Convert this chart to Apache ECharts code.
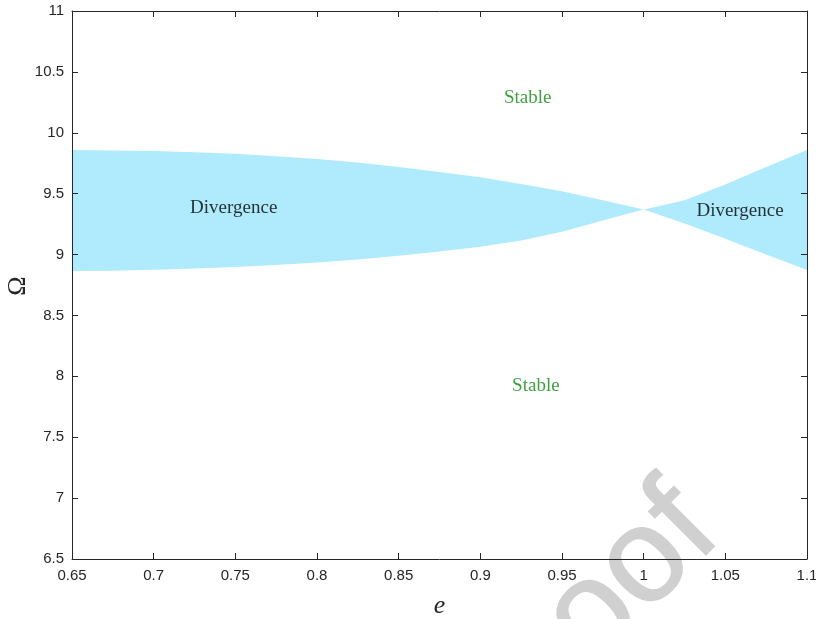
<!DOCTYPE html>
<html>
<head>
<meta charset="utf-8">
<script src="https://cdn.jsdelivr.net/npm/echarts@6/dist/echarts.min.js"></script>
<style>
html,body{margin:0;padding:0;background:#fff;}
#chart{width:816px;height:619px;}
</style>
</head>
<body>
<div id="chart"></div>
<script>
// Eccentricity values (x)
var eValues = [0.65, 0.675, 0.70, 0.725, 0.75, 0.775, 0.80, 0.825, 0.85, 0.875, 0.90, 0.925, 0.95, 0.975, 1.00, 1.025, 1.05, 1.075, 1.10];
// Upper boundary of divergence region (Omega)
var upperOmega = [9.858, 9.855, 9.850, 9.840, 9.827, 9.808, 9.785, 9.755, 9.718, 9.678, 9.635, 9.580, 9.520, 9.445, 9.371, 9.445, 9.575, 9.720, 9.858];
// Lower boundary of divergence region (Omega)
var lowerOmega = [8.865, 8.868, 8.875, 8.885, 8.897, 8.915, 8.935, 8.960, 8.990, 9.025, 9.065, 9.115, 9.188, 9.280, 9.371, 9.255, 9.130, 9.000, 8.873];
// Region annotations
var annoText = ['Stable', 'Stable', 'Divergence', 'Divergence'];
var annoE = [0.929, 0.934, 0.749, 1.059];
var annoOmega = [10.285, 7.92, 9.38, 9.357];
var annoColor = ['#108810', '#108810', '#000000', '#000000'];

var bandData = eValues.map(function (e, i) { return [e, upperOmega[i], lowerOmega[i]]; });
var annoData = annoText.map(function (t, i) {
  return { value: [annoE[i], annoOmega[i]], label: { formatter: t, color: annoColor[i] } };
});

function renderBand(params, api) {
  if (params.dataIndex !== 0) return null;
  var pts = [];
  var n = eValues.length;
  for (var i = 0; i < n; i++) pts.push(api.coord([eValues[i], upperOmega[i]]));
  for (var j = n - 1; j >= 0; j--) pts.push(api.coord([eValues[j], lowerOmega[j]]));
  return {
    type: 'polygon',
    shape: { points: pts },
    style: { fill: '#b0ebfd', stroke: null }
  };
}

var axisColor = '#262626';
var chart = echarts.init(document.getElementById('chart'));
chart.setOption({
  animation: false,
  backgroundColor: '#ffffff',
  grid: { left: 72, right: 9, top: 11, bottom: 60, containLabel: false, outerBoundsMode: 'none' },
  xAxis: [{
    type: 'value', min: 0.65, max: 1.1, interval: 0.05, position: 'bottom', z: 10,
    name: 'e', nameLocation: 'middle', nameGap: 34,
    nameTextStyle: { fontFamily: 'Liberation Serif', fontStyle: 'italic', fontSize: 26, color: axisColor },
    axisLine: { show: true, lineStyle: { color: axisColor, width: 1 } },
    axisTick: { show: true, inside: true, length: 6, lineStyle: { color: axisColor } },
    axisLabel: { color: axisColor, fontFamily: 'Liberation Sans', fontSize: 15, margin: 9,
      formatter: function (v) { return String(Math.round(v * 100) / 100); } },
    splitLine: { show: false }
  }, {
    type: 'value', min: 0.65, max: 1.1, interval: 0.05, position: 'top', z: 10,
    axisLine: { show: true, onZero: false, lineStyle: { color: axisColor, width: 1 } },
    axisTick: { show: true, inside: true, length: 6, lineStyle: { color: axisColor } },
    axisLabel: { show: false }, splitLine: { show: false }
  }],
  yAxis: [{
    type: 'value', min: 6.5, max: 11, interval: 0.5, position: 'left', z: 10,
    axisLine: { show: true, lineStyle: { color: axisColor, width: 1 } },
    axisTick: { show: true, inside: true, length: 6, lineStyle: { color: axisColor } },
    axisLabel: { color: axisColor, fontFamily: 'Liberation Sans', fontSize: 15, margin: 8 },
    splitLine: { show: false }
  }, {
    type: 'value', min: 6.5, max: 11, interval: 0.5, position: 'right', z: 10,
    axisLine: { show: true, onZero: false, lineStyle: { color: axisColor, width: 1 } },
    axisTick: { show: true, inside: true, length: 6, lineStyle: { color: axisColor } },
    axisLabel: { show: false }, splitLine: { show: false }
  }],
  series: [{
    type: 'custom', name: 'Divergence', data: bandData, renderItem: renderBand,
    encode: { x: 0, y: [1, 2] }, silent: true, z: 2
  }, {
    type: 'scatter', data: annoData, symbolSize: 0, silent: true, z: 5,
    label: { show: true, position: 'inside', fontFamily: 'Liberation Serif', fontSize: 19 }
  }],
  graphic: [{
    type: 'text', z: 20, silent: true,
    x: 18, y: 286, rotation: Math.PI / 2,
    style: { text: 'Ω', fontFamily: 'Liberation Serif', fontSize: 26, fill: axisColor, textAlign: 'center', textVerticalAlign: 'middle' }
  }, {
    type: 'text', z: -10, silent: true,
    x: 745, y: 558, rotation: 45 * Math.PI / 180,
    style: { text: 'Pre-proof', fontFamily: 'Liberation Sans', fontSize: 134, fill: '#d0d0d0', stroke: '#d0d0d0', lineWidth: 1.5, textAlign: 'right', textVerticalAlign: 'bottom' }
  }]
});
</script>
</body>
</html>
